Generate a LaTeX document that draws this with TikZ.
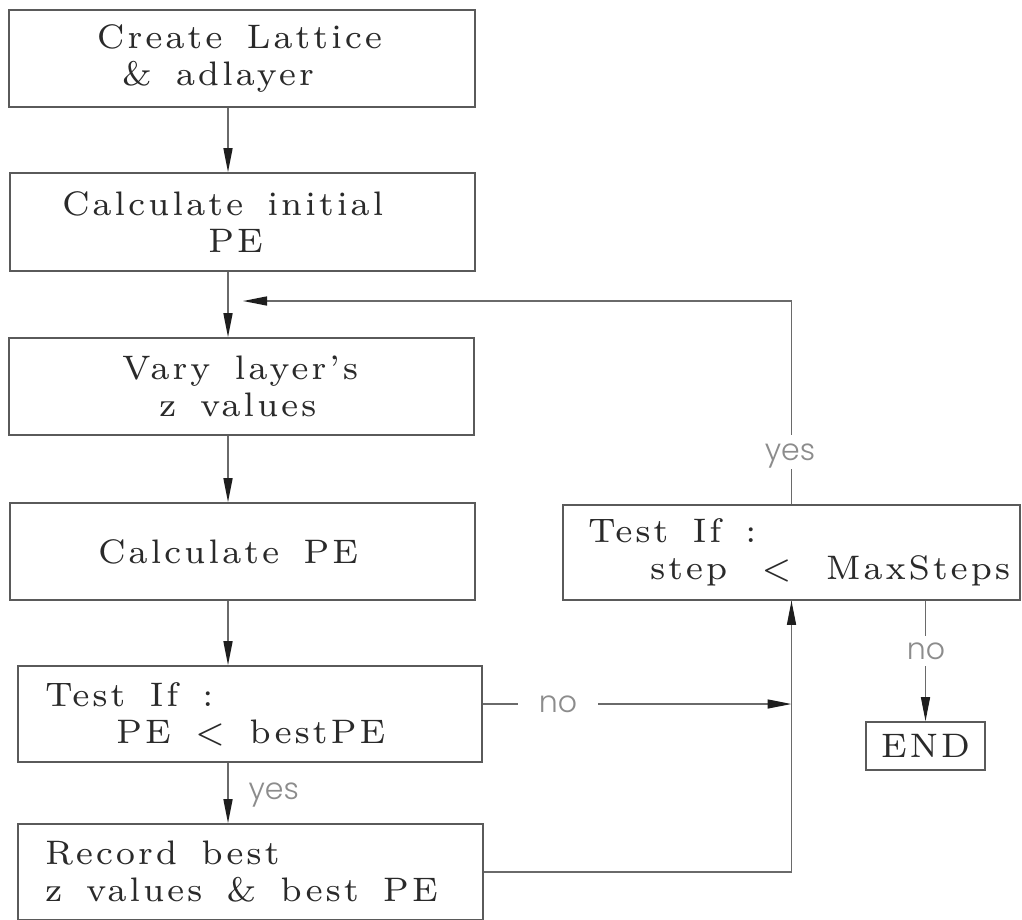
\documentclass[tikz,border=0pt]{standalone}
\usepackage{fontspec}
\usetikzlibrary{arrows.meta}
\newfontfamily\lblfont{Poppins Light}
\newfontfamily\boxfam{lmroman7-regular}[Extension=.otf, LetterSpace=8, Ligatures=TeX]
\definecolor{edge}{HTML}{5A5A5A}
\definecolor{ink}{HTML}{2A2A2A}
\definecolor{wire}{HTML}{6A6A6A}
\definecolor{tipc}{HTML}{1E1E1E}
\definecolor{lbl}{HTML}{8C8C8C}
\newcommand\boxtext{\boxfam\fontsize{34}{37}\selectfont}
\newcommand\ind[1]{\hspace*{#1pt}}
% wide word gaps used inside the process boxes
\newcommand\gap{\hspace{24pt}}
\newcommand\wgap{\hspace{34pt}}
\begin{document}
\begin{tikzpicture}[x=1pt,y=-1pt,
  stage/.style={draw=edge, line width=1.6pt, inner xsep=0pt, inner ysep=0pt,
    align=left, font=\boxtext, text=ink},
  flow/.style={draw=wire, line width=1.4pt,
    -{Stealth[length=24pt,width=9pt,inset=0pt,color=tipc]}},
  wireline/.style={draw=wire, line width=1.4pt},
  lab/.style={font=\lblfont\fontsize{30}{30}\selectfont, text=lbl,
    text height=16pt, text depth=0pt}]
\useasboundingbox (0,0) rectangle (1022,919);
\clip (0,0) rectangle (1022,919);
\fill[white] (0,0) rectangle (1022,919);

% main column of process boxes
\node[stage, minimum height=97pt, text width=466pt] (b1) at (242,58.5)
  {\ind{88}Create\gap Lattice\\\ind{113}\&\gap adlayer};
\node[stage, minimum height=98pt, text width=465pt] (b2) at (242.5,222)
  {\ind{52}Calculate\gap initial\\\ind{198}PE};
\node[stage, minimum height=97pt, text width=465pt] (b3) at (241.5,386.5)
  {\ind{113}Vary\gap layer's\\\ind{150}z\gap values};
\node[stage, minimum height=97pt, text width=465pt] (b4) at (242.5,551.5)
  {\ind{88}Calculate\gap PE};
\node[stage, minimum height=96pt, text width=464pt] (t1) at (250,714)
  {\ind{27}Test\gap If\gap :\\\ind{98}PE\gap <\gap bestPE};
\node[stage, minimum height=96pt, text width=465pt] (rec) at (250.5,872)
  {\ind{27}Record\gap best\\\ind{27}z\gap values\gap \&\gap best\gap PE};

% loop test and exit
\node[stage, minimum height=95pt, text width=457pt] (t2) at (791.5,552.5)
  {\ind{25}Test\gap If\gap :\\\ind{87}step\wgap <\wgap MaxSteps};
\node[stage, minimum height=48pt, text width=119pt, align=center] (end) at (925.5,746)
  {END};

\coordinate (spine) at (228,0);
\coordinate (back) at (243,301);

% straight-down flow
\draw[flow] (b1.south -| spine) -- (b2.north -| spine);
\draw[flow] (b2.south -| spine) -- (b3.north -| spine);
\draw[flow] (b3.south -| spine) -- (b4.north -| spine);
\draw[flow] (b4.south -| spine) -- (t1.north -| spine);
\draw[flow] (t1.south -| spine) -- (rec.north -| spine);

% branches
\draw[flow] ([yshift=10pt]t1.east) -- ([yshift=10pt]t1.east -| t2.south);
\draw[wireline] (rec.east) -| (t2.south);
\draw[flow] (rec.east -| t2.south) -- (t2.south);
\draw[flow] (t2.north) -- (t2.north |- back) -- (back);
\draw[flow] (end.north |- t2.south) -- (end.north);

% branch labels
\node[lab, anchor=west] (ly1) at (245,791) {yes};
\node[lab, fill=white, inner xsep=21pt, inner ysep=6pt] (ln1) at (558,704) {no};
\node[lab, fill=white, inner xsep=4pt, inner ysep=9pt] (ly2) at (790,452) {yes};
\node[lab, fill=white, inner xsep=4pt, inner ysep=7pt] (ln2) at (926,651) {no};
\end{tikzpicture}
\end{document}
